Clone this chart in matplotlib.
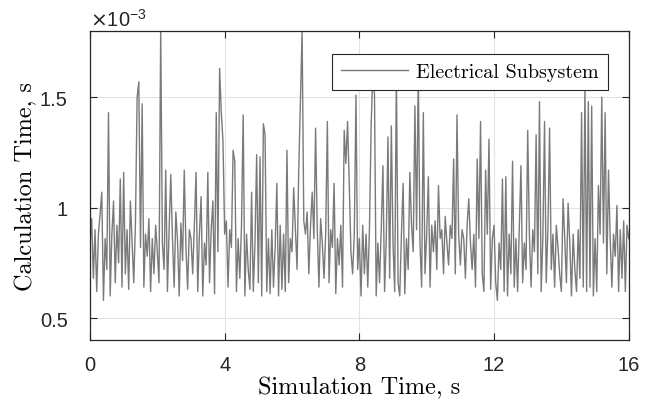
import numpy as np
import matplotlib
matplotlib.use('Agg')
import matplotlib.pyplot as plt
from matplotlib.ticker import FuncFormatter

# calculation time of the electrical subsystem, in ms, one row per second
# (sampled every 0.05 s, read off the reference)
calc_ms_rows = [
    [0.82, 0.95, 0.68, 0.90, 0.62, 0.88, 0.97, 1.07, 0.58, 0.86, 0.72, 1.43, 0.60, 0.88, 1.03, 0.66, 0.92, 0.75, 1.13, 0.64],
    [1.16, 0.70, 0.90, 0.63, 1.03, 0.84, 0.66, 0.93, 1.50, 1.57, 0.82, 1.47, 0.64, 0.88, 0.78, 0.95, 0.62, 0.86, 0.70, 0.92],
    [0.80, 0.66, 1.82, 0.84, 0.72, 1.17, 0.62, 0.90, 1.15, 0.86, 0.64, 0.98, 0.85, 0.60, 0.93, 0.76, 1.17, 0.82, 0.63, 0.90],
    [0.86, 0.70, 0.92, 1.16, 0.62, 0.88, 1.05, 0.60, 0.84, 0.74, 1.16, 0.66, 0.90, 1.03, 0.61, 1.43, 0.80, 1.63, 1.43, 1.30],
    [0.88, 0.94, 0.64, 0.90, 0.82, 1.26, 1.21, 0.62, 0.86, 0.68, 0.92, 1.42, 0.60, 0.88, 0.72, 0.63, 1.07, 0.62, 0.84, 1.24],
    [0.66, 1.23, 0.60, 1.38, 1.33, 0.62, 0.86, 0.61, 0.90, 0.64, 0.82, 1.11, 0.60, 0.92, 0.63, 0.88, 0.62, 1.26, 0.66, 0.86],
    [0.80, 1.09, 0.90, 0.72, 1.17, 1.49, 1.80, 0.94, 0.88, 0.98, 0.70, 0.92, 1.07, 0.86, 1.36, 0.90, 0.64, 0.95, 0.84, 0.68],
    [0.88, 1.39, 0.66, 0.90, 0.82, 1.11, 0.61, 0.86, 0.74, 0.92, 0.64, 1.35, 1.20, 1.39, 1.11, 0.80, 0.70, 0.88, 1.51, 0.72],
    [0.86, 0.60, 0.92, 0.70, 0.88, 0.64, 0.90, 1.37, 1.62, 1.51, 0.60, 0.84, 0.66, 0.90, 1.19, 0.62, 0.86, 1.32, 0.68, 1.37],
    [0.84, 0.62, 1.62, 0.66, 0.60, 0.88, 1.11, 0.61, 0.86, 0.72, 1.16, 0.92, 0.80, 1.46, 0.90, 1.62, 0.84, 0.64, 1.43, 0.70],
    [0.88, 1.14, 0.64, 0.92, 0.80, 0.94, 0.72, 1.10, 0.86, 0.90, 0.70, 0.96, 0.84, 0.74, 0.92, 0.86, 1.22, 0.70, 1.42, 0.88],
    [0.74, 0.90, 0.86, 0.68, 0.92, 1.04, 0.84, 0.72, 0.88, 0.64, 1.22, 0.86, 1.39, 0.70, 0.62, 1.17, 0.88, 1.31, 0.63, 0.86],
    [0.92, 0.66, 0.58, 0.84, 0.72, 1.13, 0.62, 1.14, 0.60, 0.88, 0.70, 1.21, 0.64, 0.86, 0.62, 0.90, 1.19, 0.66, 0.84, 0.72],
    [1.35, 0.88, 0.64, 0.90, 0.80, 1.33, 0.70, 1.48, 0.62, 0.86, 1.39, 0.66, 0.90, 1.36, 0.72, 0.88, 0.64, 0.92, 0.82, 0.70],
    [0.62, 1.04, 0.86, 0.66, 1.02, 0.84, 0.60, 0.88, 0.72, 0.62, 0.90, 0.68, 1.43, 0.64, 1.55, 0.62, 1.48, 0.64, 1.46, 0.60],
    [0.86, 0.62, 1.10, 0.88, 1.50, 0.84, 1.43, 0.70, 1.17, 0.86, 0.64, 0.88, 0.78, 1.01, 0.62, 0.90, 0.68, 0.94, 0.62, 0.92],
]
calc_ms_last = [0.86]
dt = 0.05

x_ticks = [0, 4, 8, 12, 16]
y_ticks_ms = [0.5, 1.0, 1.5]

calc_ms = np.array(sum(calc_ms_rows, []) + calc_ms_last)
calc_s = calc_ms * 1e-3
sim_t = np.arange(len(calc_s)) * dt

fig = plt.figure(figsize=(6.53, 4.10), dpi=100)
ax = fig.add_axes([0.1378, 0.168, 0.825, 0.754])

line, = ax.plot(sim_t, calc_s, color='#7a7a7a', lw=1.0, label='Electrical Subsystem')

ax.set_xlim(0, 16)
ax.set_ylim(0.4e-3, 1.8e-3)
ax.set_xticks(x_ticks)
ax.set_yticks([v * 1e-3 for v in y_ticks_ms])
ax.yaxis.set_major_formatter(FuncFormatter(lambda v, p: f'{v * 1e3:g}'))

sans = 'Liberation Sans'
serif = 'cmr10'
for lab in ax.get_xticklabels() + ax.get_yticklabels():
    lab.set_fontfamily(sans)
    lab.set_fontsize(14.5)

ax.tick_params(direction='in', length=5, width=0.8, color='#262626',
               top=True, right=True, labelcolor='#262626')
ax.tick_params(axis='x', pad=11)
ax.tick_params(axis='y', pad=16)
ax.grid(True, color='#e3e3e3', lw=0.8)
ax.set_axisbelow(True)
for sp in ax.spines.values():
    sp.set_color('#262626')
    sp.set_linewidth(0.9)

ax.set_xlabel('Simulation Time, s', fontfamily=serif, fontsize=17.5, labelpad=1)
ax.set_ylabel('Calculation Time, s', fontfamily=serif, fontsize=17.5, labelpad=2)

ax.text(0.0, 1.005, r'$\times\mathregular{10^{-3}}$', transform=ax.transAxes,
        ha='left', va='bottom', fontsize=14.5, fontfamily=sans, color='#262626')

leg = ax.legend(loc='upper right', bbox_to_anchor=(0.961, 0.926), borderaxespad=0,
                fancybox=False, framealpha=1, edgecolor='#262626',
                handlelength=3.3, handletextpad=0.4, borderpad=0.45,
                prop={'family': serif, 'size': 14.5})
leg.get_frame().set_linewidth(0.8)

fig.savefig('out.png', dpi=100)
